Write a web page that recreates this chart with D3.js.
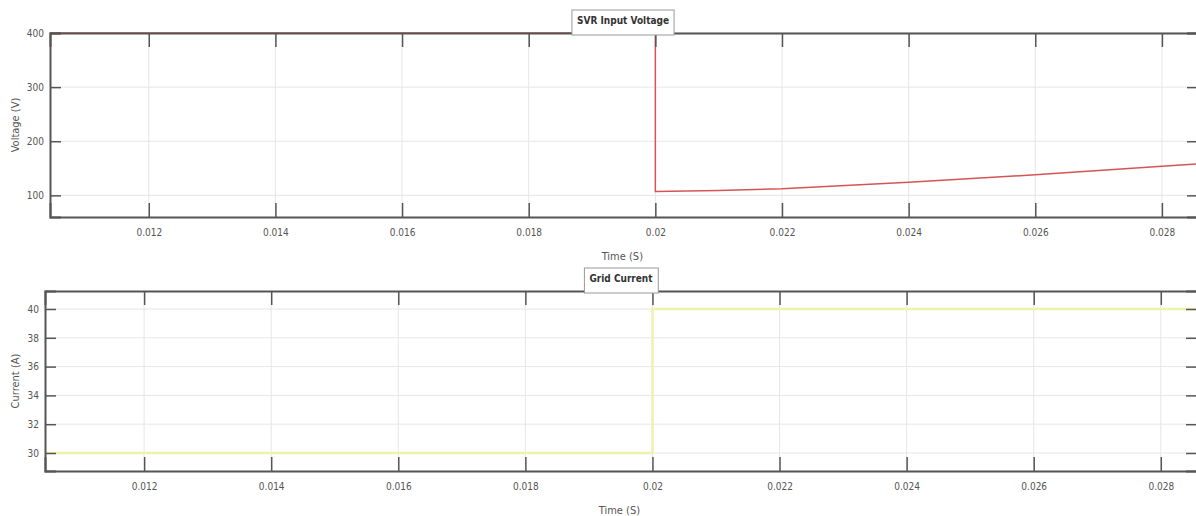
<!DOCTYPE html>
<meta charset="utf-8">
<style>
    body { margin: 0; background: #fff; }
    .tick text { font: 10px "Liberation Sans Narrow", "DejaVu Sans Condensed", sans-serif; fill: #555; }
    .axisLabel { font: 11px "Liberation Sans Narrow", "DejaVu Sans Condensed", sans-serif; fill: #555; text-anchor: middle; }
    .title { font: bold 10px "Liberation Sans Narrow", "DejaVu Sans Condensed", sans-serif; fill: #333; text-anchor: middle; }
</style>
<body>
<script src="https://d3js.org/d3.v7.min.js"></script>
<script>
    let width = 1196;
    let height = 516;

    // x ticks shared by both panels
    let timeTicks = [0.012, 0.014, 0.016, 0.018, 0.02, 0.022, 0.024, 0.026, 0.028];
    let timeDomain = [0.01044, 0.02857];

    // SVR input voltage (V)
    let voltTime = [0.01044, 0.02, 0.02, 0.021, 0.022, 0.023, 0.024, 0.025, 0.026, 0.027, 0.028, 0.02857];
    let voltValue = [400, 400, 107, 109, 112, 118, 124, 131, 138, 146, 154, 158];
    let voltTicks = [100, 200, 300, 400];

    // Grid current (A)
    let currTime = [0.01044, 0.02, 0.02, 0.02857];
    let currValue = [30, 30, 40, 40];
    let currTicks = [30, 32, 34, 36, 38, 40];

    let svg = d3.select("body").append("svg")
        .attr("width", width)
        .attr("height", height);

    function drawPanel(opt) {
        let g = svg.append("g");
        let x = d3.scaleLinear().domain(timeDomain).range([opt.left, opt.right]);
        let y = d3.scaleLinear().domain(opt.yDomain).range([opt.bottom, opt.top]);

        // grid
        g.append("g").selectAll("line").data(timeTicks).join("line")
            .attr("x1", d => x(d)).attr("x2", d => x(d))
            .attr("y1", opt.top).attr("y2", opt.bottom)
            .attr("stroke", "#e6e6e6").attr("stroke-width", 1);
        g.append("g").selectAll("line").data(opt.yTicks).join("line")
            .attr("x1", opt.left).attr("x2", opt.right)
            .attr("y1", d => y(d)).attr("y2", d => y(d))
            .attr("stroke", "#e6e6e6").attr("stroke-width", 1);

        // data line
        let pts = opt.xs.map((t, i) => [t, opt.ys[i]]);
        g.append("path")
            .datum(pts)
            .attr("fill", "none")
            .attr("stroke", opt.color)
            .attr("stroke-width", opt.lineWidth)
            .attr("d", d3.line().x(d => x(d[0])).y(d => y(d[1])));

        // axes with inward ticks
        let bottomAxis = g.append("g")
            .attr("transform", "translate(0," + opt.bottom + ")")
            .call(d3.axisBottom(x).tickValues(timeTicks).tickSize(-14).tickPadding(12).tickFormat(d3.format("")));
        let topAxis = g.append("g")
            .attr("transform", "translate(0," + opt.top + ")")
            .call(d3.axisTop(x).tickValues(timeTicks).tickSize(-14).tickFormat(""));
        let leftAxis = g.append("g")
            .attr("transform", "translate(" + opt.left + ",0)")
            .call(d3.axisLeft(y).tickValues(opt.yTicks).tickSize(-11).tickPadding(6));
        let rightAxis = g.append("g")
            .attr("transform", "translate(" + opt.right + ",0)")
            .call(d3.axisRight(y).tickValues(opt.yTicks).tickSize(-11).tickFormat(""));

        [bottomAxis, topAxis, leftAxis, rightAxis].forEach(a => {
            a.select(".domain").attr("stroke", "#555").attr("stroke-width", 2);
            a.selectAll(".tick line").attr("stroke", "#555").attr("stroke-width", 1.5);
        });

        // axis labels
        g.append("text").attr("class", "axisLabel")
            .attr("x", x(0.02) - 33).attr("y", opt.bottom + 43)
            .text("Time (S)");
        g.append("text").attr("class", "axisLabel")
            .attr("transform", "translate(19," + ((opt.top + opt.bottom) / 2) + ") rotate(-90)")
            .text(opt.yLabel);

        // title box
        let t = g.append("text").attr("class", "title")
            .attr("x", opt.titleX).attr("y", opt.top - 9)
            .text(opt.title);
        let bb = t.node().getBBox();
        g.insert("rect", "text.title")
            .attr("x", bb.x - 5).attr("y", opt.top - 23)
            .attr("width", bb.width + 10).attr("height", 25)
            .attr("fill", "#fff").attr("stroke", "#999").attr("stroke-width", 1);
    }

    drawPanel({
        left: 50, right: 1198, top: 33, bottom: 217,
        yDomain: [60, 400], yTicks: voltTicks,
        xs: voltTime, ys: voltValue,
        color: "#d45555", lineWidth: 1.5,
        yLabel: "Voltage (V)", title: "SVR Input Voltage", titleX: 623
    });

    drawPanel({
        left: 45, right: 1197, top: 291, bottom: 471,
        yDomain: [28.75, 41.25], yTicks: currTicks,
        xs: currTime, ys: currValue,
        color: "#eef3a8", lineWidth: 2.5,
        yLabel: "Current (A)", title: "Grid Current", titleX: 621
    });
</script>
</body>
